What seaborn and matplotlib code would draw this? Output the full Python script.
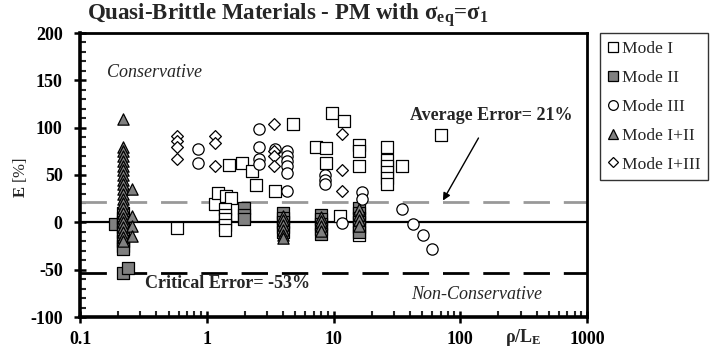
import numpy as np
import pandas as pd
import matplotlib
matplotlib.use("Agg")
import matplotlib.pyplot as plt
import seaborn as sns
from matplotlib.ticker import FixedLocator, LogLocator, NullFormatter, FixedFormatter

# ---------------- data ----------------
mode1_x = [0.58, 1.17, 1.22, 1.41, 1.55, 1.4, 1.4, 1.4, 1.4, 1.4, 1.5, 1.91, 2.26, 2.45, 3.45,
           4.82, 7.23, 8.73, 8.73, 9.66, 12.1, 11.2, 16, 16, 16, 16,
           26.4, 26.4, 26.4, 26.4, 26.4, 26.4, 34.9, 70.2]
mode1_y = [-6, 19, 31, 28, 26, 14, 8, 3, -3, -8, 61, 63, 54, 39, 33,
           104, 80, 78, 63, 116, 107, 7, 82, 75, 60, -13,
           80, 66, 59, 53, 47, 41, 59, 92]

mode2_x = [0.19, 0.22, 0.22, 0.22, 0.22, 0.22, 0.22, 0.22, 0.22, 0.22, 0.22, 0.24,
           1.97, 1.97, 1.97, 3.98, 3.98, 3.98, 3.98, 3.98,
           7.95, 7.95, 7.95, 7.95, 7.95, 15.9, 15.9, 15.9, 15.9, 15.9, 15.9]
mode2_y = [-2, 10, 5, 0, -5, -10, -15, -20, -25, -28, -53, -48,
           15, 8, 3, 10, 5, 0, -5, -10,
           8, 3, -2, -7, -12, 15, 10, 5, 0, -5, -10]

mode3_x = [0.85, 0.85, 2.58, 2.58, 2.58, 2.58, 3.45, 4.33, 4.33, 4.33, 4.33, 4.33, 4.33,
           8.6, 8.6, 8.6, 11.6, 16.9, 16.9, 34.5, 42.7, 51.2, 59.5]
mode3_y = [77, 63, 99, 80, 67, 62, 77, 75, 70, 65, 59, 52, 33,
           50, 45, 40, -1, 32, 25, 14, -2, -13, -28]

mode12_x = [0.22] * 22 + [0.256] * 4 + [3.98] * 6 + [7.95] * 4 + [15.9] * 4
mode12_y = [109, 80, 75, 70, 65, 60, 55, 50, 45, 40, 35, 30, 25, 20, 15, 10, 5, 0, -5, -10, -15, -20,
            35, 7, -4, -14,
            7, 2, -3, -8, -13, -17,
            6, 1, -4, -9,
            14, 8, 2, -4]

mode13_x = [0.58, 0.58, 0.58, 0.58, 1.16, 1.16, 1.16, 3.4, 3.4, 3.4, 3.4, 11.6, 11.6, 11.6]
mode13_y = [91, 86, 80, 67, 91, 84, 59, 104, 75, 70, 59, 93, 55, 33]

series_names = ["Mode I", "Mode II", "Mode III", "Mode I+II", "Mode I+III"]
average_error = 21
critical_error = -53
y_ticks = [-100, -50, 0, 50, 100, 150, 200]
x_ticks = [0.1, 1, 10, 100, 1000]
x_tick_labels = ["0.1", "1", "10", "100", "1000"]

# ---------------- style ----------------
sns.set_theme(style="white")
plt.rcParams["font.family"] = ["Liberation Serif", "DejaVu Serif"]
plt.rcParams["mathtext.fontset"] = "custom"
plt.rcParams["mathtext.rm"] = "Liberation Serif"
plt.rcParams["mathtext.bf"] = "Liberation Serif:bold"
plt.rcParams["mathtext.it"] = "Liberation Serif:italic"
plt.rcParams["axes.unicode_minus"] = False

fig = plt.figure(figsize=(7.21, 3.58), dpi=100)
ax = fig.add_axes([80 / 721, 1 - 317 / 358, (587 - 80) / 721, (317 - 33) / 358])

frames = []
for name, xs, ys in zip(series_names,
                        [mode1_x, mode2_x, mode3_x, mode12_x, mode13_x],
                        [mode1_y, mode2_y, mode3_y, mode12_y, mode13_y]):
    frames.append(pd.DataFrame({"x": xs, "y": ys, "series": name}))
df = pd.concat(frames, ignore_index=True)

styles = {
    "Mode I": dict(marker="s", fc="white", s=64),
    "Mode II": dict(marker="s", fc="#808080", s=64),
    "Mode III": dict(marker="o", fc="white", s=66),
    "Mode I+II": dict(marker="^", fc="#808080", s=66),
    "Mode I+III": dict(marker="D", fc="white", s=36),
}

# reference lines
ax.axhline(0, color="black", lw=1.6, zorder=1)
ax.axhline(average_error, color="#999999", lw=2.0, dashes=(9.5, 5), zorder=1)
ax.axhline(critical_error, color="black", lw=2.0, dashes=(9.5, 5), zorder=1)

for i, name in enumerate(series_names):
    st = styles[name]
    sub = df[df["series"] == name]
    sns.scatterplot(data=sub, x="x", y="y", ax=ax, marker=st["marker"], s=st["s"],
                    color=st["fc"], edgecolor="black", linewidth=0.9,
                    label=name, zorder=3 + i, legend=False)

ax.set_xscale("log")
ax.set_xlim(0.1, 1000)
ax.set_ylim(-100, 200)
ax.set_xlabel("")
ax.set_ylabel("")

ax.xaxis.set_major_locator(FixedLocator(x_ticks))
ax.xaxis.set_major_formatter(FixedFormatter(x_tick_labels))
ax.xaxis.set_minor_locator(LogLocator(base=10, subs=np.arange(2, 10)))
ax.xaxis.set_minor_formatter(NullFormatter())
ax.yaxis.set_major_locator(FixedLocator(y_ticks))
ax.yaxis.set_minor_locator(FixedLocator(np.arange(-100, 201, 10)))

ax.tick_params(axis="both", which="major", direction="inout", length=8, width=1.8,
               labelsize=13, colors="black", left=True, bottom=True)
ax.tick_params(axis="both", which="minor", direction="in", length=4, width=1.5,
               left=True, bottom=True)
ax.tick_params(axis="y", which="major", pad=8.5)
ax.tick_params(axis="x", which="major", pad=6)
for lbl in ax.get_xticklabels() + ax.get_yticklabels():
    lbl.set_fontweight("bold")

for sp in ax.spines.values():
    sp.set_visible(True)
    sp.set_color("black")
ax.spines["left"].set_linewidth(2.6)
ax.spines["bottom"].set_linewidth(2.6)
ax.spines["top"].set_linewidth(2.0)
ax.spines["right"].set_linewidth(2.0)

# texts
ax.text(0.163, 158, "Conservative", fontstyle="italic", fontsize=13, ha="left", va="center")
ax.text(135, -76, "Non-Conservative", fontstyle="italic", fontsize=13, ha="center", va="center")
ax.text(1.46, -65, "Critical Error= -53%", fontweight="bold", fontsize=13, ha="center", va="center")
ax.annotate("Average Error= 21%", xy=(73, 23), xytext=(176, 113),
            fontweight="bold", fontsize=13, ha="center", va="center",
            arrowprops=dict(arrowstyle="-|>", color="black", lw=1.0,
                            shrinkA=9, shrinkB=0, mutation_scale=11))

fig.text(288 / 721, 1 - 15 / 358,
         r"Quasi-Brittle Materials - PM with σ$_{\mathbf{eq}}$=σ$_{\mathbf{1}}$",
         fontweight="bold", fontsize=16.5, ha="center", va="center")
fig.text(20 / 721, 1 - 178 / 358, r"$\mathbf{E}$ $\mathit{[\%]}$",
         rotation=90, fontsize=12, ha="center", va="center")
fig.text(523 / 721, 1 - 338 / 358, r"ρ/L$_{\mathbf{E}}$",
         fontweight="bold", fontsize=13, ha="center", va="center")

# legend
handles = []
for name in series_names:
    st = styles[name]
    ms = 7 if st["marker"] != "D" else 5.2
    handles.append(plt.Line2D([], [], ls="none", marker=st["marker"], markersize=ms,
                              markerfacecolor=st["fc"], markeredgecolor="black",
                              markeredgewidth=0.9, label=name))
leg = fig.legend(handles=handles, loc="upper left", bbox_to_anchor=(600 / 721, 1 - 33 / 358),
                 frameon=True, fancybox=False, edgecolor="black", fontsize=12.6,
                 handlelength=0.6, handletextpad=0.2, labelspacing=0.72,
                 borderpad=0.45, borderaxespad=0)
leg.get_frame().set_linewidth(1.0)

fig.savefig("out.png", dpi=100)
